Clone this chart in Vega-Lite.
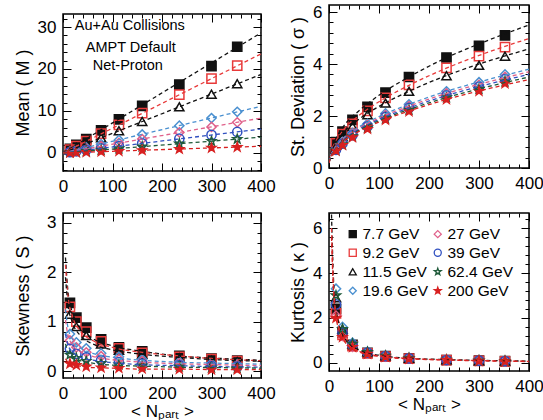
{
  "$schema": "https://vega.github.io/schema/vega-lite/v6.json",
  "background": "white",
  "padding": {"left": 13, "top": 2, "right": 0, "bottom": 0},
  "datasets": {
    "pts": [
      {"s":"7.7 GeV","n":14,"M":1.0,"sd":1.0,"S":1.38,"K":2.4},
      {"s":"7.7 GeV","n":27,"M":1.9,"sd":1.4,"S":1.08,"K":1.35},
      {"s":"7.7 GeV","n":47,"M":3.3,"sd":1.85,"S":0.88,"K":0.8},
      {"s":"7.7 GeV","n":77,"M":5.4,"sd":2.35,"S":0.64,"K":0.45},
      {"s":"7.7 GeV","n":113,"M":8.0,"sd":2.9,"S":0.48,"K":0.3},
      {"s":"7.7 GeV","n":160,"M":11.2,"sd":3.5,"S":0.40,"K":0.2},
      {"s":"7.7 GeV","n":235,"M":16.3,"sd":4.25,"S":0.31,"K":0.13},
      {"s":"7.7 GeV","n":300,"M":20.7,"sd":4.7,"S":0.25,"K":0.1},
      {"s":"7.7 GeV","n":352,"M":25.3,"sd":5.1,"S":0.21,"K":0.08},
      {"s":"9.2 GeV","n":14,"M":0.8,"sd":0.95,"S":1.3,"K":2.2},
      {"s":"9.2 GeV","n":27,"M":1.6,"sd":1.3,"S":1.0,"K":1.25},
      {"s":"9.2 GeV","n":47,"M":2.8,"sd":1.7,"S":0.8,"K":0.75},
      {"s":"9.2 GeV","n":77,"M":4.6,"sd":2.2,"S":0.6,"K":0.42},
      {"s":"9.2 GeV","n":113,"M":6.7,"sd":2.7,"S":0.46,"K":0.28},
      {"s":"9.2 GeV","n":160,"M":9.5,"sd":3.2,"S":0.37,"K":0.19},
      {"s":"9.2 GeV","n":235,"M":13.9,"sd":3.85,"S":0.29,"K":0.12},
      {"s":"9.2 GeV","n":300,"M":17.7,"sd":4.3,"S":0.24,"K":0.09},
      {"s":"9.2 GeV","n":352,"M":20.8,"sd":4.65,"S":0.2,"K":0.07},
      {"s":"11.5 GeV","n":14,"M":0.7,"sd":0.88,"S":1.15,"K":2.9},
      {"s":"11.5 GeV","n":27,"M":1.3,"sd":1.2,"S":0.9,"K":1.5},
      {"s":"11.5 GeV","n":47,"M":2.2,"sd":1.6,"S":0.72,"K":0.85},
      {"s":"11.5 GeV","n":77,"M":3.6,"sd":2.05,"S":0.55,"K":0.5},
      {"s":"11.5 GeV","n":113,"M":5.3,"sd":2.5,"S":0.42,"K":0.32},
      {"s":"11.5 GeV","n":160,"M":7.5,"sd":2.95,"S":0.34,"K":0.21},
      {"s":"11.5 GeV","n":235,"M":11.0,"sd":3.55,"S":0.27,"K":0.14},
      {"s":"11.5 GeV","n":300,"M":14.0,"sd":3.95,"S":0.22,"K":0.1},
      {"s":"11.5 GeV","n":352,"M":16.5,"sd":4.3,"S":0.19,"K":0.08},
      {"s":"19.6 GeV","n":14,"M":0.4,"sd":0.75,"S":0.75,"K":3.3},
      {"s":"19.6 GeV","n":27,"M":0.8,"sd":1.0,"S":0.58,"K":1.6},
      {"s":"19.6 GeV","n":47,"M":1.3,"sd":1.35,"S":0.46,"K":0.9},
      {"s":"19.6 GeV","n":77,"M":2.1,"sd":1.7,"S":0.36,"K":0.5},
      {"s":"19.6 GeV","n":113,"M":3.1,"sd":2.1,"S":0.29,"K":0.33},
      {"s":"19.6 GeV","n":160,"M":4.4,"sd":2.45,"S":0.24,"K":0.22},
      {"s":"19.6 GeV","n":235,"M":6.5,"sd":2.95,"S":0.19,"K":0.14},
      {"s":"19.6 GeV","n":300,"M":8.3,"sd":3.3,"S":0.16,"K":0.11},
      {"s":"19.6 GeV","n":352,"M":9.8,"sd":3.6,"S":0.14,"K":0.09},
      {"s":"27 GeV","n":14,"M":0.3,"sd":0.72,"S":0.62,"K":2.1},
      {"s":"27 GeV","n":27,"M":0.6,"sd":0.97,"S":0.48,"K":1.2},
      {"s":"27 GeV","n":47,"M":1.0,"sd":1.3,"S":0.38,"K":0.72},
      {"s":"27 GeV","n":77,"M":1.6,"sd":1.65,"S":0.3,"K":0.42},
      {"s":"27 GeV","n":113,"M":2.4,"sd":2.03,"S":0.24,"K":0.28},
      {"s":"27 GeV","n":160,"M":3.3,"sd":2.38,"S":0.2,"K":0.19},
      {"s":"27 GeV","n":235,"M":4.9,"sd":2.87,"S":0.16,"K":0.12},
      {"s":"27 GeV","n":300,"M":6.2,"sd":3.2,"S":0.13,"K":0.09},
      {"s":"27 GeV","n":352,"M":7.3,"sd":3.5,"S":0.12,"K":0.07},
      {"s":"39 GeV","n":14,"M":0.2,"sd":0.7,"S":0.45,"K":2.6},
      {"s":"39 GeV","n":27,"M":0.4,"sd":0.94,"S":0.35,"K":1.35},
      {"s":"39 GeV","n":47,"M":0.7,"sd":1.26,"S":0.28,"K":0.8},
      {"s":"39 GeV","n":77,"M":1.1,"sd":1.6,"S":0.22,"K":0.46},
      {"s":"39 GeV","n":113,"M":1.6,"sd":1.97,"S":0.18,"K":0.3},
      {"s":"39 GeV","n":160,"M":2.3,"sd":2.31,"S":0.15,"K":0.2},
      {"s":"39 GeV","n":235,"M":3.4,"sd":2.79,"S":0.12,"K":0.13},
      {"s":"39 GeV","n":300,"M":4.3,"sd":3.12,"S":0.1,"K":0.1},
      {"s":"39 GeV","n":352,"M":5.0,"sd":3.42,"S":0.09,"K":0.08},
      {"s":"62.4 GeV","n":14,"M":0.13,"sd":0.68,"S":0.33,"K":3.0},
      {"s":"62.4 GeV","n":27,"M":0.25,"sd":0.91,"S":0.26,"K":1.5},
      {"s":"62.4 GeV","n":47,"M":0.44,"sd":1.22,"S":0.2,"K":0.85},
      {"s":"62.4 GeV","n":77,"M":0.72,"sd":1.55,"S":0.16,"K":0.48},
      {"s":"62.4 GeV","n":113,"M":1.06,"sd":1.91,"S":0.13,"K":0.31},
      {"s":"62.4 GeV","n":160,"M":1.5,"sd":2.24,"S":0.11,"K":0.21},
      {"s":"62.4 GeV","n":235,"M":2.2,"sd":2.72,"S":0.09,"K":0.13},
      {"s":"62.4 GeV","n":300,"M":2.8,"sd":3.04,"S":0.07,"K":0.1},
      {"s":"62.4 GeV","n":352,"M":3.3,"sd":3.33,"S":0.06,"K":0.08},
      {"s":"200 GeV","n":14,"M":0.06,"sd":0.66,"S":0.15,"K":2.0},
      {"s":"200 GeV","n":27,"M":0.11,"sd":0.88,"S":0.12,"K":1.15},
      {"s":"200 GeV","n":47,"M":0.19,"sd":1.18,"S":0.09,"K":0.7},
      {"s":"200 GeV","n":77,"M":0.31,"sd":1.5,"S":0.07,"K":0.4},
      {"s":"200 GeV","n":113,"M":0.45,"sd":1.85,"S":0.06,"K":0.27},
      {"s":"200 GeV","n":160,"M":0.64,"sd":2.18,"S":0.05,"K":0.18},
      {"s":"200 GeV","n":235,"M":0.94,"sd":2.64,"S":0.04,"K":0.12},
      {"s":"200 GeV","n":300,"M":1.2,"sd":2.96,"S":0.03,"K":0.09},
      {"s":"200 GeV","n":352,"M":1.4,"sd":3.25,"S":0.03,"K":0.07}
    ],
    "fits": [
      {"s":"7.7 GeV","n":0,"M":0,"sd":0.3},
      {"s":"7.7 GeV","n":5,"sd":0.75,"S":2.3,"K":6.6},
      {"s":"7.7 GeV","n":10,"sd":0.98,"S":1.62,"K":3.3},
      {"s":"7.7 GeV","n":20,"sd":1.35,"S":1.15,"K":1.7},
      {"s":"7.7 GeV","n":35,"sd":1.75,"S":0.87,"K":0.97},
      {"s":"7.7 GeV","n":60,"sd":2.2,"S":0.66,"K":0.57},
      {"s":"7.7 GeV","n":100,"sd":2.8,"S":0.51,"K":0.34},
      {"s":"7.7 GeV","n":160,"sd":3.5,"S":0.4,"K":0.21},
      {"s":"7.7 GeV","n":230,"sd":4.2,"S":0.31,"K":0.15},
      {"s":"7.7 GeV","n":310,"sd":4.85,"S":0.26,"K":0.11},
      {"s":"7.7 GeV","n":400,"M":28.6,"sd":5.5,"S":0.22,"K":0.08},
      {"s":"9.2 GeV","n":0,"M":0,"sd":0.28},
      {"s":"9.2 GeV","n":5,"sd":0.7,"S":2.15,"K":6.0},
      {"s":"9.2 GeV","n":10,"sd":0.9,"S":1.52,"K":3.0},
      {"s":"9.2 GeV","n":20,"sd":1.23,"S":1.08,"K":1.55},
      {"s":"9.2 GeV","n":35,"sd":1.6,"S":0.81,"K":0.9},
      {"s":"9.2 GeV","n":60,"sd":2.02,"S":0.62,"K":0.52},
      {"s":"9.2 GeV","n":100,"sd":2.55,"S":0.48,"K":0.31},
      {"s":"9.2 GeV","n":160,"sd":3.18,"S":0.38,"K":0.2},
      {"s":"9.2 GeV","n":230,"sd":3.8,"S":0.31,"K":0.14},
      {"s":"9.2 GeV","n":310,"sd":4.4,"S":0.25,"K":0.1},
      {"s":"9.2 GeV","n":400,"M":23.6,"sd":4.98,"S":0.21,"K":0.07},
      {"s":"11.5 GeV","n":0,"M":0,"sd":0.26},
      {"s":"11.5 GeV","n":5,"sd":0.65,"S":1.9},
      {"s":"11.5 GeV","n":10,"sd":0.84,"S":1.35},
      {"s":"11.5 GeV","n":20,"sd":1.15,"S":0.96},
      {"s":"11.5 GeV","n":35,"sd":1.49,"S":0.72},
      {"s":"11.5 GeV","n":60,"sd":1.88,"S":0.55},
      {"s":"11.5 GeV","n":100,"sd":2.37,"S":0.43},
      {"s":"11.5 GeV","n":160,"sd":2.95,"S":0.34},
      {"s":"11.5 GeV","n":230,"sd":3.52,"S":0.28},
      {"s":"11.5 GeV","n":310,"sd":4.06,"S":0.23},
      {"s":"11.5 GeV","n":400,"M":18.7,"sd":4.58,"S":0.2},
      {"s":"19.6 GeV","n":0,"M":0,"sd":0.22},
      {"s":"19.6 GeV","n":5,"sd":0.56,"S":1.25},
      {"s":"19.6 GeV","n":10,"sd":0.72,"S":0.88},
      {"s":"19.6 GeV","n":20,"sd":0.98,"S":0.63},
      {"s":"19.6 GeV","n":35,"sd":1.26,"S":0.47},
      {"s":"19.6 GeV","n":60,"sd":1.58,"S":0.36},
      {"s":"19.6 GeV","n":100,"sd":1.98,"S":0.28},
      {"s":"19.6 GeV","n":160,"sd":2.45,"S":0.22},
      {"s":"19.6 GeV","n":230,"sd":2.92,"S":0.18},
      {"s":"19.6 GeV","n":310,"sd":3.36,"S":0.16},
      {"s":"19.6 GeV","n":400,"M":11.1,"sd":3.8,"S":0.14},
      {"s":"27 GeV","n":0,"M":0,"sd":0.21},
      {"s":"27 GeV","n":5,"sd":0.54,"S":1.03},
      {"s":"27 GeV","n":10,"sd":0.7,"S":0.73},
      {"s":"27 GeV","n":20,"sd":0.95,"S":0.52},
      {"s":"27 GeV","n":35,"sd":1.22,"S":0.39},
      {"s":"27 GeV","n":60,"sd":1.53,"S":0.3},
      {"s":"27 GeV","n":100,"sd":1.92,"S":0.23},
      {"s":"27 GeV","n":160,"sd":2.38,"S":0.18},
      {"s":"27 GeV","n":230,"sd":2.84,"S":0.15},
      {"s":"27 GeV","n":310,"sd":3.27,"S":0.13},
      {"s":"27 GeV","n":400,"M":8.3,"sd":3.7,"S":0.11},
      {"s":"39 GeV","n":0,"M":0,"sd":0.2},
      {"s":"39 GeV","n":5,"sd":0.52,"S":0.75},
      {"s":"39 GeV","n":10,"sd":0.68,"S":0.53},
      {"s":"39 GeV","n":20,"sd":0.92,"S":0.38},
      {"s":"39 GeV","n":35,"sd":1.18,"S":0.28},
      {"s":"39 GeV","n":60,"sd":1.49,"S":0.22},
      {"s":"39 GeV","n":100,"sd":1.87,"S":0.17},
      {"s":"39 GeV","n":160,"sd":2.31,"S":0.13},
      {"s":"39 GeV","n":230,"sd":2.76,"S":0.11},
      {"s":"39 GeV","n":310,"sd":3.18,"S":0.09},
      {"s":"39 GeV","n":400,"M":5.7,"sd":3.6,"S":0.08},
      {"s":"62.4 GeV","n":0,"M":0,"sd":0.2},
      {"s":"62.4 GeV","n":5,"sd":0.5,"S":0.55},
      {"s":"62.4 GeV","n":10,"sd":0.66,"S":0.39},
      {"s":"62.4 GeV","n":20,"sd":0.89,"S":0.28},
      {"s":"62.4 GeV","n":35,"sd":1.15,"S":0.21},
      {"s":"62.4 GeV","n":60,"sd":1.45,"S":0.16},
      {"s":"62.4 GeV","n":100,"sd":1.82,"S":0.12},
      {"s":"62.4 GeV","n":160,"sd":2.25,"S":0.1},
      {"s":"62.4 GeV","n":230,"sd":2.68,"S":0.08},
      {"s":"62.4 GeV","n":310,"sd":3.09,"S":0.07},
      {"s":"62.4 GeV","n":400,"M":3.75,"sd":3.5,"S":0.06},
      {"s":"200 GeV","n":0,"M":0,"sd":0.19},
      {"s":"200 GeV","n":5,"sd":0.49,"S":0.25,"K":5.6},
      {"s":"200 GeV","n":10,"sd":0.64,"S":0.18,"K":2.8},
      {"s":"200 GeV","n":20,"sd":0.87,"S":0.13,"K":1.45},
      {"s":"200 GeV","n":35,"sd":1.12,"S":0.1,"K":0.84},
      {"s":"200 GeV","n":60,"sd":1.41,"S":0.07,"K":0.49},
      {"s":"200 GeV","n":100,"sd":1.77,"S":0.06,"K":0.29},
      {"s":"200 GeV","n":160,"sd":2.19,"S":0.04,"K":0.18},
      {"s":"200 GeV","n":230,"sd":2.61,"S":0.04,"K":0.13},
      {"s":"200 GeV","n":310,"sd":3.01,"S":0.03,"K":0.09},
      {"s":"200 GeV","n":400,"M":1.6,"sd":3.4,"S":0.03,"K":0.06}
    ],
    "txt": [
      {"t":"Au+Au Collisions","n":135,"M":30.2},
      {"t":"AMPT Default","n":137,"M":25.0},
      {"t":"Net-Proton","n":131,"M":20.7}
    ]
  },
  "columns": 2,
  "align": "none",
  "spacing": {"row": 15, "column": 12},
  "resolve": {"legend": {"fill": "independent", "stroke": "independent", "shape": "independent"}},
  "concat": [
    {
      "spacing": 6,
      "vconcat": [
        {
          "width": 198, "height": 1,
          "data": {"values": [{}]},
          "mark": {"type": "point", "opacity": 0, "size": 0},
          "view": {"stroke": null}
        },
        {
          "width": 198, "height": 157,
          "resolve": {"axis": {"x": "independent", "y": "independent"}},
          "layer": [
            {
              "data": {"name": "pts"},
              "mark": {"type": "point", "size": 85, "strokeWidth": 1.5, "opacity": 1},
              "encoding": {
                "x": {"field": "n", "type": "quantitative", "scale": {"domain": [0, 400], "nice": false, "zero": false},
                  "axis": {"orient": "bottom", "values": [0,100,200,300,400], "format": "d", "tickSize": -8, "labelPadding": 15, "labelFlush": false, "labelOverlap": false, "title": null, "minExtent": 24, "maxExtent": 24}},
                "y": {"field": "M", "type": "quantitative", "scale": {"domain": [-4.3, 33.1], "nice": false, "zero": false},
                  "axis": {"orient": "left", "values": [0,10,20,30], "format": "d", "tickSize": -8, "labelPadding": 15, "labelOverlap": false, "title": "Mean ( M )", "titlePadding": 4, "minExtent": 27, "maxExtent": 27}},
                "shape": {"field": "s", "type": "nominal", "legend": null, "scale": {"domain": ["7.7 GeV","9.2 GeV","11.5 GeV","19.6 GeV","27 GeV","39 GeV","62.4 GeV","200 GeV"], "range": ["square","square","triangle-up","diamond","diamond","circle","M0,-1L0.235,-0.324L0.951,-0.309L0.38,0.124L0.588,0.809L0,0.4L-0.588,0.809L-0.38,0.124L-0.951,-0.309L-0.235,-0.324Z","M0,-1L0.235,-0.324L0.951,-0.309L0.38,0.124L0.588,0.809L0,0.4L-0.588,0.809L-0.38,0.124L-0.951,-0.309L-0.235,-0.324Z"]}},
                "fill": {"field": "s", "type": "nominal", "legend": null, "scale": {"domain": ["7.7 GeV","9.2 GeV","11.5 GeV","19.6 GeV","27 GeV","39 GeV","62.4 GeV","200 GeV"], "range": ["#111111","transparent","transparent","transparent","transparent","transparent","transparent","#d82020"]}},
                "stroke": {"field": "s", "type": "nominal", "legend": null, "scale": {"domain": ["7.7 GeV","9.2 GeV","11.5 GeV","19.6 GeV","27 GeV","39 GeV","62.4 GeV","200 GeV"], "range": ["#111111","#e83a3a","#111111","#4a90d0","#e0608a","#3050c0","#1f5a3a","#d82020"]}}
              }
            },
            {
              "data": {"name": "fits"},
              "transform": [{"filter": "isValid(datum.M)"}],
              "mark": {"type": "line", "strokeDash": [4, 3], "strokeWidth": 1.3, "clip": true},
              "encoding": {
                "x": {"field": "n", "type": "quantitative", "axis": {"orient": "top", "values": [0,100,200,300,400], "tickSize": -8, "labels": false, "title": null, "minExtent": 0, "maxExtent": 0}},
                "y": {"field": "M", "type": "quantitative", "axis": {"orient": "right", "values": [0,10,20,30], "tickSize": -8, "labels": false, "title": null, "minExtent": 0, "maxExtent": 0}},
                "detail": {"field": "s"},
                "stroke": {"field": "s", "type": "nominal", "legend": null}
              }
            },
            {
              "data": {"name": "pts"},
              "mark": {"type": "point", "opacity": 0},
              "encoding": {
                "x": {"field": "n", "type": "quantitative", "axis": {"orient": "bottom", "values": [0,20,40,60,80,100,120,140,160,180,200,220,240,260,280,300,320,340,360,380,400], "tickSize": -4, "labels": false, "title": null, "minExtent": 0, "maxExtent": 0}},
                "y": {"field": "M", "type": "quantitative", "axis": {"orient": "left", "values": [-4,-2,0,2,4,6,8,10,12,14,16,18,20,22,24,26,28,30,32], "tickSize": -4, "labels": false, "title": null, "minExtent": 0, "maxExtent": 0}}
              }
            },
            {
              "data": {"name": "pts"},
              "mark": {"type": "point", "opacity": 0},
              "encoding": {
                "x": {"field": "n", "type": "quantitative", "axis": {"orient": "top", "values": [0,20,40,60,80,100,120,140,160,180,200,220,240,260,280,300,320,340,360,380,400], "tickSize": -4, "labels": false, "title": null, "minExtent": 0, "maxExtent": 0}},
                "y": {"field": "M", "type": "quantitative", "axis": {"orient": "right", "values": [-4,-2,0,2,4,6,8,10,12,14,16,18,20,22,24,26,28,30,32], "tickSize": -4, "labels": false, "title": null, "minExtent": 0, "maxExtent": 0}}
              }
            },
            {
              "data": {"name": "txt"},
              "mark": {"type": "text", "fontSize": 14.5, "color": "#000"},
              "encoding": {
                "x": {"field": "n", "type": "quantitative", "axis": null},
                "y": {"field": "M", "type": "quantitative", "axis": null},
                "text": {"field": "t"}
              }
            }
          ]
        }
      ]
    },
    {
      "width": 200, "height": 163,
      "resolve": {"axis": {"x": "independent", "y": "independent"}},
      "layer": [
        {
          "data": {"name": "pts"},
          "mark": {"type": "point", "size": 85, "strokeWidth": 1.5, "opacity": 1},
          "encoding": {
            "x": {"field": "n", "type": "quantitative", "scale": {"domain": [0, 400], "nice": false, "zero": false},
              "axis": {"orient": "bottom", "values": [0,100,200,300,400], "format": "d", "tickSize": -8, "labelPadding": 15, "labelFlush": false, "labelOverlap": false, "title": null, "minExtent": 24, "maxExtent": 24}},
            "y": {"field": "sd", "type": "quantitative", "scale": {"domain": [0, 6.27], "nice": false, "zero": false},
              "axis": {"orient": "left", "values": [0,2,4,6], "format": "d", "tickSize": -8, "labelPadding": 15, "labelOverlap": false, "title": "St. Deviation ( σ )", "titlePadding": 4, "minExtent": 18, "maxExtent": 18}},
            "shape": {"field": "s", "type": "nominal", "legend": null},
            "fill": {"field": "s", "type": "nominal", "legend": null},
            "stroke": {"field": "s", "type": "nominal", "legend": null}
          }
        },
        {
          "data": {"name": "fits"},
          "transform": [{"filter": "isValid(datum.sd)"}],
          "mark": {"type": "line", "strokeDash": [4, 3], "strokeWidth": 1.3, "clip": true, "interpolate": "monotone"},
          "encoding": {
            "x": {"field": "n", "type": "quantitative", "axis": {"orient": "top", "values": [0,100,200,300,400], "tickSize": -8, "labels": false, "title": null, "minExtent": 0, "maxExtent": 0}},
            "y": {"field": "sd", "type": "quantitative", "axis": {"orient": "right", "values": [0,2,4,6], "tickSize": -8, "labels": false, "title": null, "minExtent": 0, "maxExtent": 0}},
            "detail": {"field": "s"},
            "stroke": {"field": "s", "type": "nominal", "legend": null}
          }
        },
        {
          "data": {"name": "pts"},
          "mark": {"type": "point", "opacity": 0},
          "encoding": {
            "x": {"field": "n", "type": "quantitative", "axis": {"orient": "bottom", "values": [0,20,40,60,80,100,120,140,160,180,200,220,240,260,280,300,320,340,360,380,400], "tickSize": -4, "labels": false, "title": null, "minExtent": 0, "maxExtent": 0}},
            "y": {"field": "sd", "type": "quantitative", "axis": {"orient": "left", "values": [0,0.4,0.8,1.2,1.6,2,2.4,2.8,3.2,3.6,4,4.4,4.8,5.2,5.6,6], "tickSize": -4, "labels": false, "title": null, "minExtent": 0, "maxExtent": 0}}
          }
        },
        {
          "data": {"name": "pts"},
          "mark": {"type": "point", "opacity": 0},
          "encoding": {
            "x": {"field": "n", "type": "quantitative", "axis": {"orient": "top", "values": [0,20,40,60,80,100,120,140,160,180,200,220,240,260,280,300,320,340,360,380,400], "tickSize": -4, "labels": false, "title": null, "minExtent": 0, "maxExtent": 0}},
            "y": {"field": "sd", "type": "quantitative", "axis": {"orient": "right", "values": [0,0.4,0.8,1.2,1.6,2,2.4,2.8,3.2,3.6,4,4.4,4.8,5.2,5.6,6], "tickSize": -4, "labels": false, "title": null, "minExtent": 0, "maxExtent": 0}}
          }
        }
      ]
    },
    {
      "width": 198, "height": 165,
      "resolve": {"axis": {"x": "independent", "y": "independent"}},
      "layer": [
        {
          "data": {"name": "pts"},
          "mark": {"type": "point", "size": 85, "strokeWidth": 1.5, "opacity": 1},
          "encoding": {
            "x": {"field": "n", "type": "quantitative", "scale": {"domain": [0, 400], "nice": false, "zero": false},
              "axis": {"orient": "bottom", "values": [0,100,200,300,400], "format": "d", "tickSize": -8, "labelPadding": 15, "labelFlush": false, "labelOverlap": false, "title": "< Nₚₐᵣₜ >", "titlePadding": 1, "titleFontSize": 17, "minExtent": 24, "maxExtent": 24}},
            "y": {"field": "S", "type": "quantitative", "scale": {"domain": [-0.14, 3.2], "nice": false, "zero": false},
              "axis": {"orient": "left", "values": [0,1,2,3], "format": "d", "tickSize": -8, "labelPadding": 15, "labelOverlap": false, "title": "Skewness ( S )", "titlePadding": 4, "minExtent": 27, "maxExtent": 27}},
            "shape": {"field": "s", "type": "nominal", "legend": null},
            "fill": {"field": "s", "type": "nominal", "legend": null},
            "stroke": {"field": "s", "type": "nominal", "legend": null}
          }
        },
        {
          "data": {"name": "fits"},
          "transform": [{"filter": "isValid(datum.S)"}],
          "mark": {"type": "line", "strokeDash": [4, 3], "strokeWidth": 1.3, "clip": true, "interpolate": "monotone"},
          "encoding": {
            "x": {"field": "n", "type": "quantitative", "axis": {"orient": "top", "values": [0,100,200,300,400], "tickSize": -8, "labels": false, "title": null, "minExtent": 0, "maxExtent": 0}},
            "y": {"field": "S", "type": "quantitative", "axis": {"orient": "right", "values": [0,1,2,3], "tickSize": -8, "labels": false, "title": null, "minExtent": 0, "maxExtent": 0}},
            "detail": {"field": "s"},
            "stroke": {"field": "s", "type": "nominal", "legend": null}
          }
        },
        {
          "data": {"name": "pts"},
          "mark": {"type": "point", "opacity": 0},
          "encoding": {
            "x": {"field": "n", "type": "quantitative", "axis": {"orient": "bottom", "values": [0,20,40,60,80,100,120,140,160,180,200,220,240,260,280,300,320,340,360,380,400], "tickSize": -4, "labels": false, "title": null, "minExtent": 0, "maxExtent": 0}},
            "y": {"field": "S", "type": "quantitative", "axis": {"orient": "left", "values": [0,0.2,0.4,0.6,0.8,1,1.2,1.4,1.6,1.8,2,2.2,2.4,2.6,2.8,3], "tickSize": -4, "labels": false, "title": null, "minExtent": 0, "maxExtent": 0}}
          }
        },
        {
          "data": {"name": "pts"},
          "mark": {"type": "point", "opacity": 0},
          "encoding": {
            "x": {"field": "n", "type": "quantitative", "axis": {"orient": "top", "values": [0,20,40,60,80,100,120,140,160,180,200,220,240,260,280,300,320,340,360,380,400], "tickSize": -4, "labels": false, "title": null, "minExtent": 0, "maxExtent": 0}},
            "y": {"field": "S", "type": "quantitative", "axis": {"orient": "right", "values": [0,0.2,0.4,0.6,0.8,1,1.2,1.4,1.6,1.8,2,2.2,2.4,2.6,2.8,3], "tickSize": -4, "labels": false, "title": null, "minExtent": 0, "maxExtent": 0}}
          }
        }
      ]
    },
    {
      "width": 200, "height": 158,
      "resolve": {"axis": {"x": "independent", "y": "independent"}},
      "layer": [
        {
          "data": {"name": "pts"},
          "mark": {"type": "point", "size": 85, "strokeWidth": 1.5, "opacity": 1},
          "encoding": {
            "x": {"field": "n", "type": "quantitative", "scale": {"domain": [0, 400], "nice": false, "zero": false},
              "axis": {"orient": "bottom", "values": [0,100,200,300,400], "format": "d", "tickSize": -8, "labelPadding": 15, "labelFlush": false, "labelOverlap": false, "title": "< Nₚₐᵣₜ >", "titlePadding": 1, "titleFontSize": 17, "minExtent": 24, "maxExtent": 24}},
            "y": {"field": "K", "type": "quantitative", "scale": {"domain": [-0.36, 6.67], "nice": false, "zero": false},
              "axis": {"orient": "left", "values": [0,2,4,6], "format": "d", "tickSize": -8, "labelPadding": 15, "labelOverlap": false, "title": "Kurtosis ( κ )", "titlePadding": 4, "minExtent": 18, "maxExtent": 18}},
            "shape": {"field": "s", "type": "nominal", "legend": {"title": null, "orient": "none", "legendX": 16, "legendY": 13, "columns": 2, "labelFontSize": 15.5, "labelColor": "#000", "symbolSize": 50, "symbolStrokeWidth": 1.3, "rowPadding": 2, "columnPadding": 2, "labelOffset": 2, "padding": 0}},
            "fill": {"field": "s", "type": "nominal", "legend": {"title": null, "orient": "none", "legendX": 16, "legendY": 13, "columns": 2, "labelFontSize": 15.5, "labelColor": "#000", "symbolSize": 50, "symbolStrokeWidth": 1.3, "rowPadding": 2, "columnPadding": 2, "labelOffset": 2, "padding": 0}},
            "stroke": {"field": "s", "type": "nominal", "legend": {"title": null, "orient": "none", "legendX": 16, "legendY": 13, "columns": 2, "labelFontSize": 15.5, "labelColor": "#000", "symbolSize": 50, "symbolStrokeWidth": 1.3, "rowPadding": 2, "columnPadding": 2, "labelOffset": 2, "padding": 0}}
          }
        },
        {
          "data": {"name": "fits"},
          "transform": [{"filter": "isValid(datum.K)"}],
          "mark": {"type": "line", "strokeDash": [4, 3], "strokeWidth": 1.3, "clip": true, "interpolate": "monotone"},
          "encoding": {
            "x": {"field": "n", "type": "quantitative", "axis": {"orient": "top", "values": [0,100,200,300,400], "tickSize": -8, "labels": false, "title": null, "minExtent": 0, "maxExtent": 0}},
            "y": {"field": "K", "type": "quantitative", "axis": {"orient": "right", "values": [0,2,4,6], "tickSize": -8, "labels": false, "title": null, "minExtent": 0, "maxExtent": 0}},
            "detail": {"field": "s"},
            "stroke": {"field": "s", "type": "nominal", "legend": null}
          }
        },
        {
          "data": {"name": "pts"},
          "mark": {"type": "point", "opacity": 0},
          "encoding": {
            "x": {"field": "n", "type": "quantitative", "axis": {"orient": "bottom", "values": [0,20,40,60,80,100,120,140,160,180,200,220,240,260,280,300,320,340,360,380,400], "tickSize": -4, "labels": false, "title": null, "minExtent": 0, "maxExtent": 0}},
            "y": {"field": "K", "type": "quantitative", "axis": {"orient": "left", "values": [0,0.4,0.8,1.2,1.6,2,2.4,2.8,3.2,3.6,4,4.4,4.8,5.2,5.6,6,6.4], "tickSize": -4, "labels": false, "title": null, "minExtent": 0, "maxExtent": 0}}
          }
        },
        {
          "data": {"name": "pts"},
          "mark": {"type": "point", "opacity": 0},
          "encoding": {
            "x": {"field": "n", "type": "quantitative", "axis": {"orient": "top", "values": [0,20,40,60,80,100,120,140,160,180,200,220,240,260,280,300,320,340,360,380,400], "tickSize": -4, "labels": false, "title": null, "minExtent": 0, "maxExtent": 0}},
            "y": {"field": "K", "type": "quantitative", "axis": {"orient": "right", "values": [0,0.4,0.8,1.2,1.6,2,2.4,2.8,3.2,3.6,4,4.4,4.8,5.2,5.6,6,6.4], "tickSize": -4, "labels": false, "title": null, "minExtent": 0, "maxExtent": 0}}
          }
        }
      ]
    }
  ],
  "config": {
    "font": "Liberation Sans",
    "view": {"stroke": "#000", "strokeWidth": 1.5},
    "axis": {"domain": false, "grid": false, "tickColor": "#000", "tickWidth": 1, "labelColor": "#000", "labelFontSize": 17, "titleFontSize": 18, "titleFontWeight": "normal", "titleColor": "#000"},
    "legend": {"labelFont": "Liberation Sans"}
  }
}
